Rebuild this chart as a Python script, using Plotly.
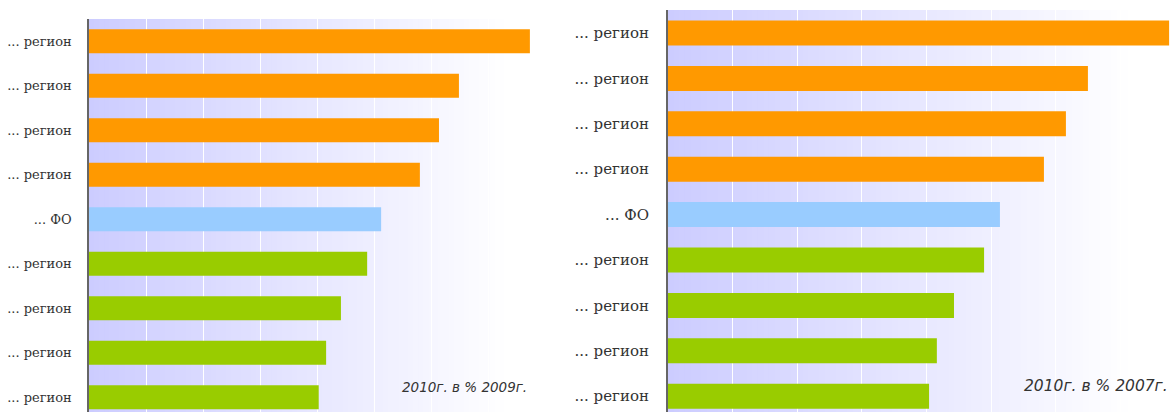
import plotly.graph_objects as go

# ---- data ----
labels = ["... регион", "... регион", "... регион", "... регион", "... ФО",
          "... регион", "... регион", "... регион", "... регион"]
left_values = [154.7, 129.8, 122.8, 116.1, 102.5, 97.6, 88.4, 83.2, 80.6]
right_values = [155.0, 129.9, 123.1, 116.3, 102.7, 97.8, 88.5, 83.2, 80.8]
bar_colors = ["#FF9900", "#FF9900", "#FF9900", "#FF9900", "#99CCFF",
              "#99CC00", "#99CC00", "#99CC00", "#99CC00"]
left_note = "2010г. в % 2009г."
right_note = "2010г. в % 2007г."

W, H = 1173, 412
idx = list(range(len(labels)))

fig = go.Figure()
fig.add_trace(go.Bar(x=left_values, y=idx, orientation="h", marker=dict(color=bar_colors, line=dict(width=0)),
                     width=0.54, xaxis="x", yaxis="y", showlegend=False, hoverinfo="x"))
fig.add_trace(go.Bar(x=right_values, y=idx, orientation="h", marker=dict(color=bar_colors, line=dict(width=0)),
                     width=0.55, xaxis="x2", yaxis="y2", showlegend=False, hoverinfo="x"))

# gradient backgrounds (lavender -> white)
start = (204, 204, 255)
N = 90
shapes = []
for xr, yr in (("x domain", "y domain"), ("x2 domain", "y2 domain")):
    for i in range(N):
        f0, f1 = i / N, (i + 1) / N
        t = min(1.0, ((f0 + f1) / 2) / 0.92)
        c = tuple(round(s + (255 - s) * t) for s in start)
        shapes.append(dict(type="rect", xref=xr, yref=yr, x0=f0, x1=f1 + 0.002, y0=0, y1=1,
                           fillcolor="rgb(%d,%d,%d)" % c, line=dict(width=0), layer="below"))

axis_common = dict(showgrid=True, gridcolor="white", gridwidth=1, dtick=20, showticklabels=False,
                   zeroline=False, showline=False, ticks="", fixedrange=True)

fig.update_layout(
    width=W, height=H,
    margin=dict(l=0, r=0, t=0, b=0),
    paper_bgcolor="white", plot_bgcolor="rgba(0,0,0,0)",
    bargap=0.45,
    xaxis=dict(domain=[89 / W, 545 / W], range=[0, 160], anchor="y", **axis_common),
    xaxis2=dict(domain=[667.7 / W, 1.0], range=[0, 156.2], anchor="y2", **axis_common),
    yaxis=dict(domain=[0, (H - 19) / H], range=[8.331, -0.5], anchor="x", tickvals=idx, ticktext=labels,
               showgrid=False, zeroline=False, showline=True, linecolor="#666", linewidth=1.5,
               ticks="", ticklabelstandoff=13, automargin=False,
               tickfont=dict(family="DejaVu Serif", size=13, color="#333")),
    yaxis2=dict(domain=[0, (H - 10) / H], range=[8.348, -0.507], anchor="x2", tickvals=idx, ticktext=labels,
                showgrid=False, zeroline=False, showline=True, linecolor="#666", linewidth=1.5,
                ticks="", ticklabelstandoff=14, automargin=False,
                tickfont=dict(family="DejaVu Serif", size=15, color="#333")),
    shapes=shapes,
    annotations=[
        dict(text=left_note, xref="paper", yref="paper", x=529 / W, y=(H - 387) / H,
             xanchor="right", yanchor="middle", showarrow=False,
             font=dict(family="DejaVu Sans", size=13.5, color="#333", style="italic")),
        dict(text=right_note, xref="paper", yref="paper", x=1170 / W, y=(H - 386) / H,
             xanchor="right", yanchor="middle", showarrow=False,
             font=dict(family="DejaVu Sans", size=15.5, color="#333", style="italic")),
    ],
)

fig.write_html("out.html", config={"displayModeBar": False},
               post_script="document.body.style.margin='0';document.body.style.overflow='hidden';")
